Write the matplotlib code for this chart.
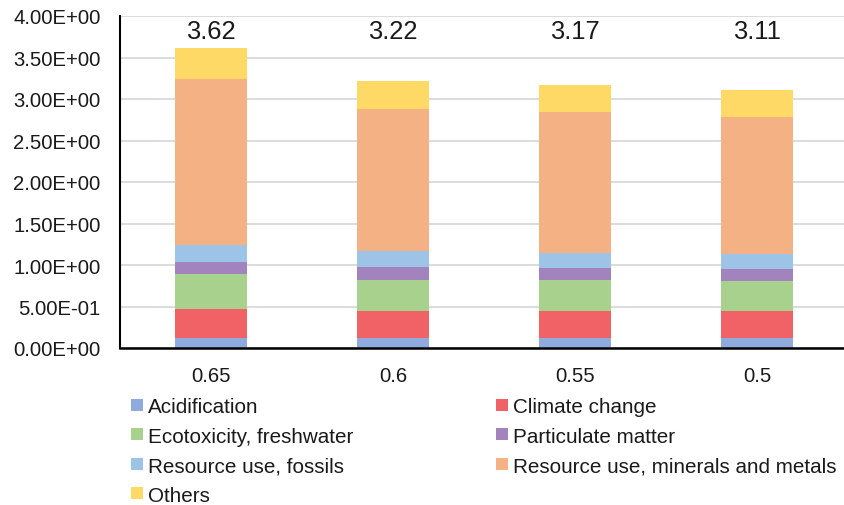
import matplotlib
matplotlib.use("Agg")
import matplotlib.pyplot as plt
from matplotlib.patches import Patch
import numpy as np

plt.rcParams['font.family'] = ['Liberation Sans', 'DejaVu Sans']

# Data
categories = ["0.65", "0.6", "0.55", "0.5"]
series_names = [
    "Acidification",
    "Climate change",
    "Ecotoxicity, freshwater",
    "Particulate matter",
    "Resource use, fossils",
    "Resource use, minerals and metals",
    "Others",
]
acidification = [0.120, 0.120, 0.120, 0.120]
climate_change = [0.354, 0.326, 0.326, 0.326]
ecotoxicity = [0.418, 0.377, 0.377, 0.365]
particulate = [0.148, 0.153, 0.137, 0.137]
fossils = [0.205, 0.189, 0.188, 0.185]
minerals = [1.992, 1.718, 1.695, 1.654]
others = [0.383, 0.337, 0.327, 0.323]
yticks = [0.0, 0.5, 1.0, 1.5, 2.0, 2.5, 3.0, 3.5, 4.0]

series = [acidification, climate_change, ecotoxicity, particulate,
          fossils, minerals, others]
colors = ["#8FAADC", "#F06266", "#A9D18E", "#A383BD",
          "#9DC3E6", "#F4B183", "#FFD966"]

W, H = 844, 506
fig = plt.figure(figsize=(W / 100, H / 100), dpi=100)
ax = fig.add_axes([120 / W, 1 - 349 / H, 724 / W, 332 / H])

x = np.arange(len(categories))
bottom = np.zeros(len(categories))
for vals, col, name in zip(series, colors, series_names):
    ax.bar(x, vals, width=0.4, bottom=bottom, color=col, label=name,
           edgecolor="none", zorder=3)
    bottom += np.array(vals)

# Totals written above each stack
for xi, tot in zip(x, bottom):
    ax.text(xi, 3.82, f"{tot:.2f}", ha="center", va="center",
            fontsize=18.4, color="#1a1a1a")

ax.set_xlim(-0.5, 3.478)
ax.set_ylim(0, 4.0)
ax.set_yticks(yticks)
ax.set_yticklabels([f"{v:.2E}" for v in yticks])
ax.set_xticks(x)
ax.set_xticklabels(categories)
ax.tick_params(axis="y", length=0, pad=14, labelsize=14.6, colors="#1a1a1a")
ax.tick_params(axis="x", length=0, pad=13, labelsize=14.6, colors="#1a1a1a")
ax.grid(axis="y", color="#D9D9D9", linewidth=1.3, zorder=0)
ax.set_axisbelow(True)
for s in ["top", "right"]:
    ax.spines[s].set_visible(False)
ax.spines["left"].set_linewidth(1.5)
ax.spines["bottom"].set_linewidth(1.8)
ax.spines["left"].set_zorder(4)
ax.spines["bottom"].set_zorder(4)

# Legend laid out row by row in two columns
handles = [Patch(facecolor=c, edgecolor="none") for c in colors]
left_idx = [0, 2, 4, 6]
right_idx = [1, 3, 5]
common = dict(frameon=False, loc="upper left", fontsize=14.9,
              handlelength=0.6, handleheight=0.5, handletextpad=0.2,
              labelspacing=0.51, borderpad=0, borderaxespad=0)
leg1 = fig.legend([handles[i] for i in left_idx],
                  [series_names[i] for i in left_idx],
                  bbox_to_anchor=(131 / W, 1 - 398 / H), **common)
leg2 = fig.legend([handles[i] for i in right_idx],
                  [series_names[i] for i in right_idx],
                  bbox_to_anchor=(496 / W, 1 - 398 / H), **common)
for leg in (leg1, leg2):
    for t in leg.get_texts():
        t.set_color("#1a1a1a")

fig.savefig("out.png", dpi=100)
